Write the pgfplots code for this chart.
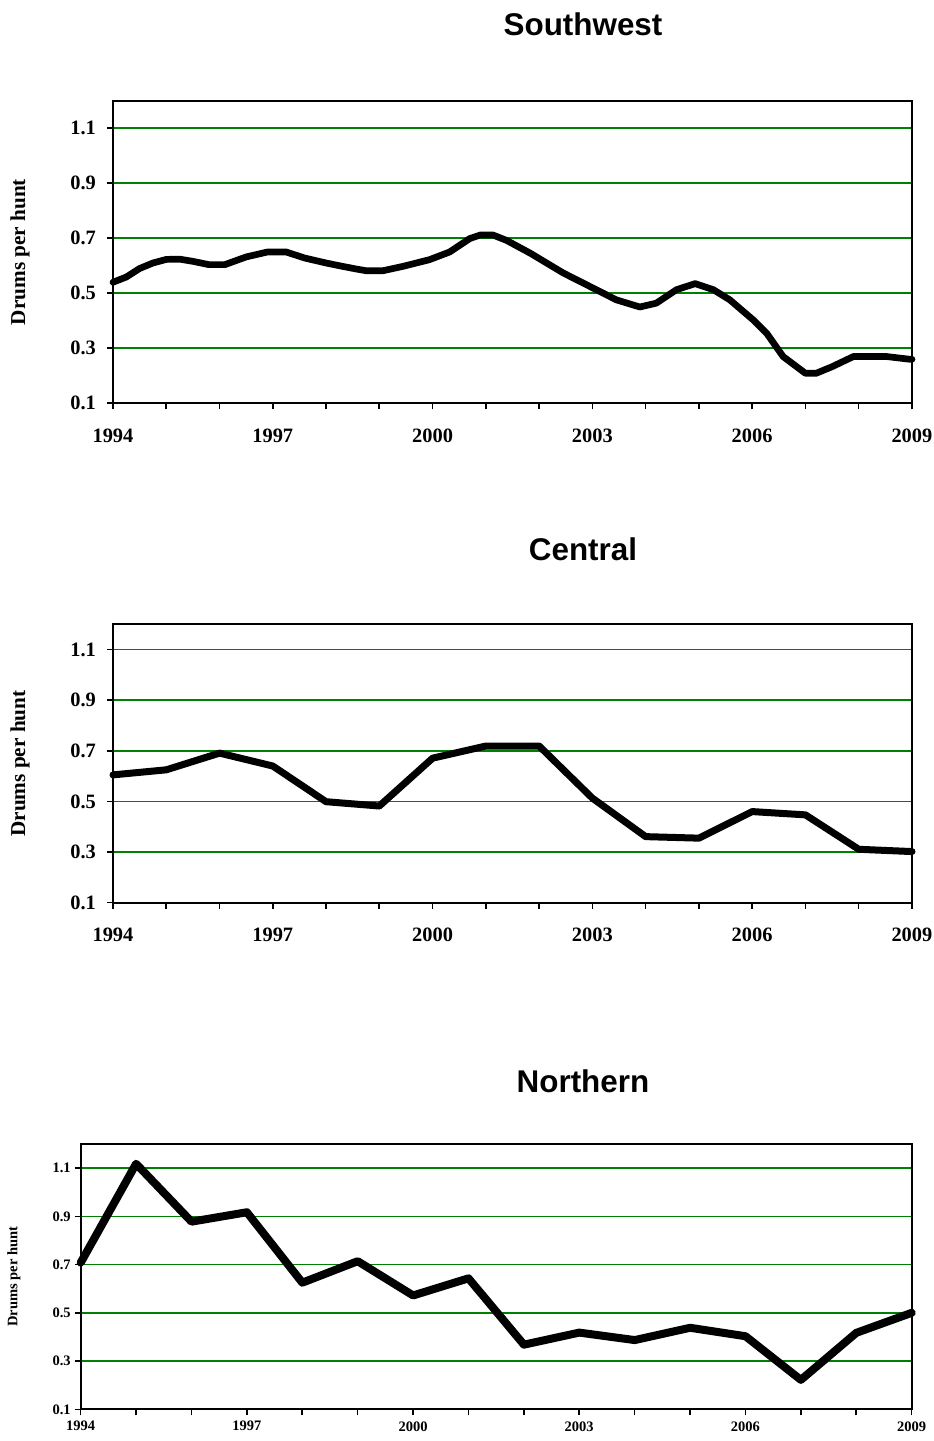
\documentclass[border=0pt]{standalone}
\usepackage{fontspec}
\setmainfont{Liberation Serif}
\newfontfamily\titlefont{Liberation Sans}
\usepackage{pgfplots}
\pgfplotsset{compat=1.18}
\definecolor{gridgreen}{RGB}{0,128,0}

\pgfplotsset{
  drums/.style={
    scale only axis,
    anchor=south west,
    xmin=1994, xmax=2009, ymin=0.1, ymax=1.2,
    xtick={1994,...,2009},
    xticklabels={1994,,,1997,,,2000,,,2003,,,2006,,,2009},
    ytick={0.1,0.3,0.5,0.7,0.9,1.1},
    yticklabels={0.1,0.3,0.5,0.7,0.9,1.1},
    tick align=outside, tick pos=left,
    major tick length=3pt,
    major tick style={black, line width=0.8pt},
    ymajorgrids, grid style={gridgreen, line width=0.8pt},
    axis line style={line width=1pt},
    ylabel={Drums per hunt},
    clip=false,
  },
  big/.style={
    ticklabel style={font=\fontsize{10.2}{12}\selectfont\bfseries},
    xticklabel style={yshift=-6.2pt},
    yticklabel style={xshift=-2pt},
    label style={font=\fontsize{10.6}{12}\selectfont\bfseries},
    ylabel style={at={(axis description cs:-0.1164,0.5)}, anchor=center},
  },
  drumline/.style={black, line width=#1, line cap=round, line join=round},
}

\begin{document}
\begin{tikzpicture}
\path[use as bounding box] (0,0) rectangle (466.5pt,720.5pt);

% Southwest
\begin{axis}[drums, big, at={(56.5pt,518.85pt)}, width=399.5pt, height=151.3pt]
\addplot[drumline=3.35pt] coordinates {
(1994,0.54) (1994.25,0.559) (1994.5,0.59) (1994.75,0.61) (1995,0.623)
(1995.25,0.624) (1995.5,0.616) (1995.8,0.604) (1996.1,0.604) (1996.5,0.632)
(1996.9,0.65) (1997.25,0.65) (1997.6,0.628) (1998,0.61) (1998.25,0.60)
(1998.57,0.588) (1998.75,0.582) (1999.07,0.582) (1999.45,0.598) (1999.94,0.622)
(2000.32,0.65) (2000.7,0.699) (2000.9,0.712) (2001.13,0.712) (2001.39,0.692)
(2001.83,0.646) (2002.45,0.574) (2002.95,0.525) (2003.45,0.476) (2003.89,0.45)
(2004.2,0.464) (2004.58,0.513) (2004.93,0.535) (2005.27,0.513) (2005.58,0.476)
(2006.02,0.403) (2006.27,0.355) (2006.58,0.27) (2007,0.209) (2007.2,0.209)
(2007.5,0.233) (2007.9,0.27) (2008.52,0.27) (2008.96,0.26) (2009,0.26)
};
\end{axis}

% Central
\begin{axis}[drums, big, at={(56.5pt,269.15pt)}, width=399.5pt, height=139.2pt]
\addplot[drumline=3.5pt] coordinates {
(1994,0.605) (1995,0.625) (1996,0.691) (1997,0.640) (1998,0.499)
(1999,0.482) (2000,0.671) (2001,0.719) (2002,0.719) (2003,0.513)
(2004,0.361) (2005,0.355) (2006,0.460) (2007,0.447) (2008,0.311) (2009,0.302)
};
\end{axis}

% Northern
\begin{axis}[drums, at={(40.35pt,15.85pt)}, width=415.5pt, height=132.65pt,
  ticklabel style={font=\fontsize{7.25}{9}\selectfont\bfseries},
  yticklabel style={xshift=1.5pt},
  xticklabel style={yshift=0.5pt},
  label style={font=\fontsize{7.25}{9}\selectfont\bfseries},
  ylabel style={at={(axis description cs:-0.0803,0.5)}, anchor=center}]
\addplot[drumline=4pt] coordinates {
(1994,0.708) (1995,1.118) (1996,0.878) (1997,0.917) (1998,0.625)
(1999,0.714) (2000,0.572) (2001,0.643) (2002,0.368) (2003,0.418)
(2004,0.387) (2005,0.438) (2006,0.403) (2007,0.222) (2008,0.417) (2009,0.500)
};
\end{axis}

\node[font=\titlefont\fontsize{15.7}{18}\selectfont\bfseries] at (291.5pt,708.5pt) {Southwest};
\node[font=\titlefont\fontsize{15.7}{18}\selectfont\bfseries] at (291.5pt,446pt) {Central};
\node[font=\titlefont\fontsize{15.7}{18}\selectfont\bfseries] at (291.5pt,180pt) {Northern};
\end{tikzpicture}
\end{document}
